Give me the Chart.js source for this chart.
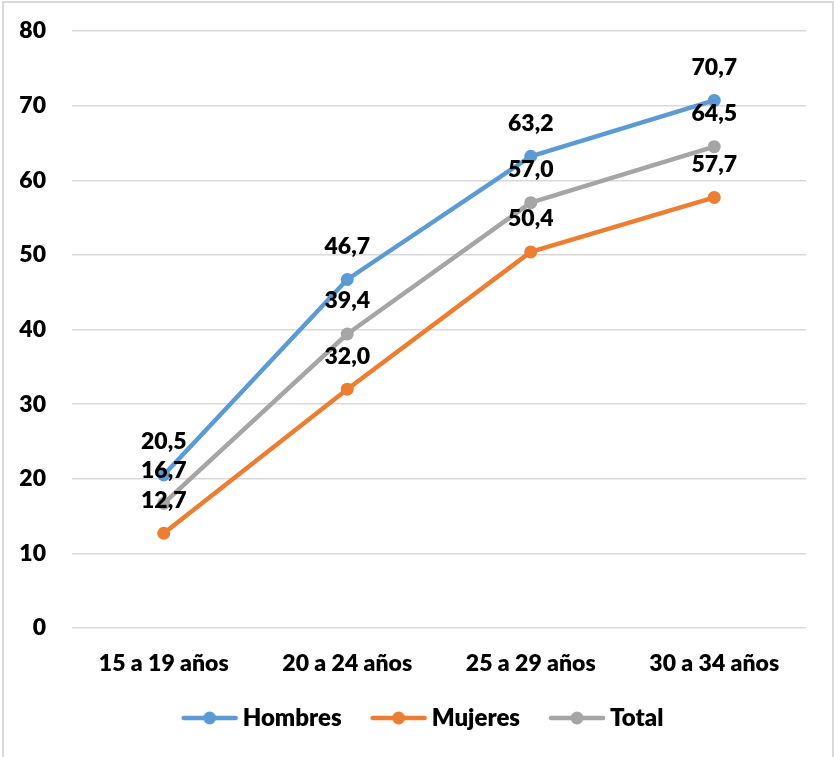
<!DOCTYPE html>
<html>
<head>
<meta charset="utf-8">
<script src="https://cdn.jsdelivr.net/npm/chart.js@4"></script>
<style>
  html, body { margin: 0; padding: 0; background: #ffffff; }
  #wrap { width: 834px; height: 757px; position: relative; }
</style>
</head>
<body>
<div id="wrap"><canvas id="chart" width="834" height="757"></canvas></div>
<script>
// Age groups on the x axis
const categories = ['15 a 19 años', '20 a 24 años', '25 a 29 años', '30 a 34 años'];
// Series values (percent)
const hombres = [20.5, 46.7, 63.2, 70.7];
const mujeres = [12.7, 32.0, 50.4, 57.7];
const total = [16.7, 39.4, 57.0, 64.5];
const seriesNames = ['Hombres', 'Mujeres', 'Total'];
const seriesColors = ['#5B9BD5', '#ED7D31', '#A5A5A5'];
// Y axis ticks
const yTicks = [0, 10, 20, 30, 40, 50, 60, 70, 80];

const FONT = 'Lato, "Open Sans", "DejaVu Sans", sans-serif';
const FONT_SIZE = 23;
const FONT_WEIGHT = '800';

// Legend marker: a short line with a dot in the middle.
// The picture is wider than the legend box and shifted so the line
// ends close to the label text.
function legendMarker(color) {
  const c = document.createElement('canvas');
  c.width = 66; c.height = 16;
  const g = c.getContext('2d');
  g.strokeStyle = color;
  g.lineWidth = 4.5;
  g.lineCap = 'round';
  g.beginPath(); g.moveTo(11, 8); g.lineTo(63, 8); g.stroke();
  g.fillStyle = color;
  g.beginPath(); g.arc(37, 8, 6.5, 0, Math.PI * 2); g.fill();
  return c;
}

// Value labels drawn above every point
const valueLabels = {
  id: 'valueLabels',
  afterDatasetsDraw(chart) {
    const ctx = chart.ctx;
    ctx.save();
    ctx.font = FONT_WEIGHT + ' ' + FONT_SIZE + 'px ' + FONT;
    ctx.fillStyle = '#000000';
    ctx.textAlign = 'center';
    ctx.textBaseline = 'middle';
    chart.data.datasets.forEach((ds, i) => {
      const meta = chart.getDatasetMeta(i);
      meta.data.forEach((pt, j) => {
        const txt = ds.data[j].toFixed(1).replace('.', ',');
        ctx.fillText(txt, pt.x, pt.y - 33);
      });
    });
    ctx.restore();
  }
};

// Light frame around the chart
const frame = {
  id: 'frame',
  beforeDraw(chart) {
    const ctx = chart.ctx;
    ctx.save();
    ctx.fillStyle = '#ffffff';
    ctx.fillRect(0, 0, chart.width, chart.height);
    ctx.strokeStyle = '#d9d9d9';
    ctx.lineWidth = 2;
    ctx.strokeRect(3, 2, chart.width - 4, chart.height + 10);
    ctx.restore();
  }
};

// Nudge the legend so it sits centred under the whole picture
const legendShift = {
  id: 'legendShift',
  afterLayout(chart) {
    if (chart.legend) {
      chart.legend.left += 14;
      chart.legend.right += 14;
    }
  }
};

const seriesData = [hombres, mujeres, total];
const datasets = seriesNames.map((name, i) => ({
  label: name,
  data: seriesData[i],
  borderColor: seriesColors[i],
  backgroundColor: seriesColors[i],
  borderWidth: 4.5,
  pointRadius: 6.5,
  pointHoverRadius: 6.5,
  pointBorderWidth: 0,
  pointStyle: 'circle',
  tension: 0,
  fill: false,
  borderCapStyle: 'round',
  borderJoinStyle: 'round'
}));

const tickFont = { family: FONT, size: FONT_SIZE, weight: FONT_WEIGHT };

new Chart(document.getElementById('chart'), {
  type: 'line',
  data: { labels: categories, datasets },
  plugins: [frame, valueLabels, legendShift],
  options: {
    responsive: false,
    animation: false,
    devicePixelRatio: 1,
    layout: { padding: { top: 31, right: 28, left: 10, bottom: 17 } },
    plugins: {
      tooltip: { enabled: false },
      legend: {
        position: 'bottom',
        labels: {
          font: { family: FONT, size: 24, weight: FONT_WEIGHT },
          color: '#000000',
          usePointStyle: true,
          boxWidth: 50,
          boxHeight: 16,
          pointStyleWidth: 50,
          padding: 28,
          generateLabels(chart) {
            return chart.data.datasets.map((ds, i) => ({
              text: ds.label,
              pointStyle: legendMarker(seriesColors[i]),
              fillStyle: seriesColors[i],
              strokeStyle: seriesColors[i],
              lineWidth: 0,
              hidden: false,
              datasetIndex: i,
              fontColor: '#000000'
            }));
          }
        }
      }
    },
    scales: {
      x: {
        offset: true,
        grid: { display: false, drawTicks: false },
        border: { display: false },
        ticks: {
          font: tickFont,
          color: '#000000',
          padding: 22,
          maxRotation: 0
        },
        afterFit(scale) { scale.height = 50; }
      },
      y: {
        min: 0,
        max: 80,
        afterBuildTicks(scale) { scale.ticks = yTicks.map(v => ({ value: v })); },
        grid: { color: '#d9d9d9', lineWidth: 1.5, drawTicks: false },
        border: { display: false },
        ticks: {
          font: tickFont,
          color: '#000000',
          padding: 26,
          callback: v => String(v)
        },
        afterFit(scale) {
          scale.width = 62;
          scale.paddingTop = 0;
          scale.paddingBottom = 0;
        }
      }
    }
  }
});
</script>
</body>
</html>
